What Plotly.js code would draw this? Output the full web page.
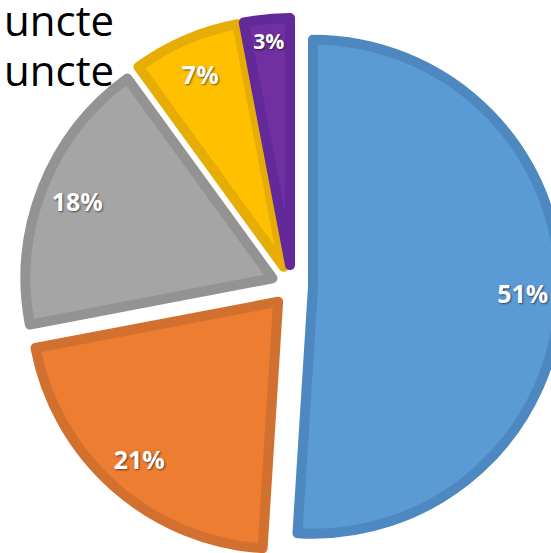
<!DOCTYPE html>
<html>
<head>
<meta charset="utf-8">
<script src="https://cdn.plot.ly/plotly-3.0.1.min.js"></script>
<style>
html,body{margin:0;padding:0;overflow:hidden;background:#fff;width:551px;height:553px;}
#chart{position:absolute;left:0;top:0;width:700px;height:700px;}
</style>
</head>
<body>
<div id="chart"></div>
<script>
var categories = ["Categoria 1", "Categoria 2", "Categoria 3", "Categoria 4", "Categoria 5"];
var values = [51, 21, 18, 7, 3];
var fillColors = ["#5B9BD5", "#ED7D31", "#A5A5A5", "#FFC000", "#7030A0"];
var lineColors = ["#4E88C0", "#D2712F", "#939393", "#E5AD06", "#63299A"];
var legendTexts = ["uncte", "uncte"];

var W = 700, H = 700;
var cx = 292, cy = 286, half = 268;
var dom = {x: [(cx - half) / W, (cx + half) / W], y: [(H - (cy + half)) / H, (H - (cy - half)) / H]};

var slices = {
  type: "pie",
  labels: categories,
  values: values,
  sort: false,
  direction: "clockwise",
  rotation: 0,
  pull: 0.085,
  textinfo: "none",
  marker: {colors: fillColors, line: {color: lineColors, width: 10}},
  domain: dom,
  showlegend: false,
  hoverinfo: "none"
};

var labelRing = {
  type: "pie",
  labels: categories,
  values: values,
  sort: false,
  direction: "clockwise",
  rotation: 0,
  pull: 0.085,
  hole: 0.7,
  texttemplate: "%{percent:.0%}",
  textposition: "inside",
  insidetextorientation: "horizontal",
  textfont: {family: "Open Sans, sans-serif", size: 25, color: "#ffffff", weight: 700, shadow: "1px 1px 2px rgba(0,0,0,0.55)"},
  marker: {colors: ["rgba(0,0,0,0)", "rgba(0,0,0,0)", "rgba(0,0,0,0)", "rgba(0,0,0,0)", "rgba(0,0,0,0)"], line: {width: 0}},
  domain: dom,
  showlegend: false,
  hoverinfo: "none"
};

var annotations = legendTexts.map(function (t, i) {
  return {
    text: t, xref: "paper", yref: "paper", x: 116 / W, y: 1 - (i * 50) / H,
    xanchor: "right", yanchor: "top", yshift: 11, showarrow: false,
    font: {family: "Open Sans, sans-serif", size: 42, color: "#000000"}
  };
});

var layout = {
  width: W, height: H,
  margin: {l: 0, r: 0, t: 0, b: 0},
  paper_bgcolor: "#ffffff",
  showlegend: false,
  annotations: annotations
};

Plotly.newPlot("chart", [slices, labelRing], layout, {staticPlot: true, displayModeBar: false});
</script>
</body>
</html>
